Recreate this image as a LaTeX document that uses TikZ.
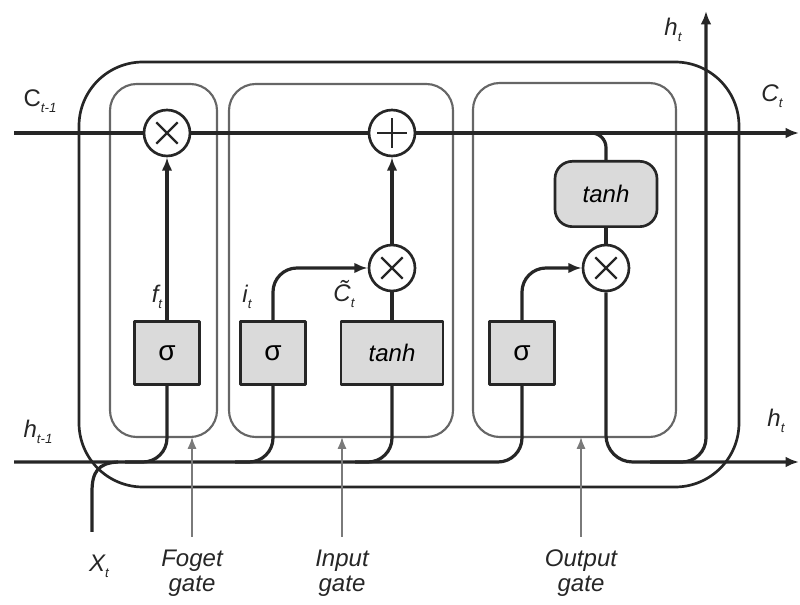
\documentclass[tikz,border=0pt]{standalone}
\usepackage{fontspec}
\setmainfont{Liberation Sans}
\usetikzlibrary{arrows.meta}
\definecolor{lc}{HTML}{262626}
\definecolor{ic}{HTML}{666666}
\definecolor{gc}{HTML}{7A7A7A}
\definecolor{boxfill}{HTML}{DADADA}
\newcommand\subsc[1]{\raisebox{-0.45ex}{\fontsize{10}{10}\selectfont\itshape #1}}
\begin{document}
\begin{tikzpicture}[x=0.75pt,y=-0.75pt, line join=round,
  wire/.style={line width=2.4pt, draw=lc},
  arr/.style={wire, -{Latex[length=10pt,width=8pt]}},
  garr/.style={line width=1.4pt, draw=gc, -{Latex[length=9pt,width=7pt]}},
  gbox/.style={draw=lc, line width=2pt, fill=boxfill, minimum width=48.5pt, minimum height=47pt, inner sep=0pt, font=\fontsize{21}{21}\selectfont},
  tbox/.style={gbox, minimum width=76.5pt, font=\fontsize{18}{18}\selectfont\itshape},
  mult/.style={circle, draw=lc, line width=2pt, fill=white, minimum size=34.5pt, inner sep=0pt,
    path picture={\draw[line width=1.7pt, draw=lc] ([shift={(-8pt,-8pt)}]path picture bounding box.center) -- ([shift={(8pt,8pt)}]path picture bounding box.center);
      \draw[line width=1.7pt, draw=lc] ([shift={(-8pt,8pt)}]path picture bounding box.center) -- ([shift={(8pt,-8pt)}]path picture bounding box.center);}},
  addc/.style={circle, draw=lc, line width=2pt, fill=white, minimum size=34.5pt, inner sep=0pt,
    path picture={\draw[line width=1.7pt, draw=lc] ([shift={(-11pt,0pt)}]path picture bounding box.center) -- ([shift={(11pt,0pt)}]path picture bounding box.center);
      \draw[line width=1.7pt, draw=lc] ([shift={(0pt,-11pt)}]path picture bounding box.center) -- ([shift={(0pt,11pt)}]path picture bounding box.center);}},
  lab/.style={font=\fontsize{18}{18}\selectfont\itshape, text=lc, inner sep=1pt},
  gatelab/.style={font=\fontsize{18}{19}\selectfont\itshape, text=lc, align=center, inner sep=1pt}
]
\useasboundingbox (0,0) rectangle (800,605);
% outer cell
\draw[line width=2pt, draw=lc, rounded corners=48pt] (79,62) rectangle (739,487);
% inner gate boxes
\draw[line width=1.6pt, draw=ic, rounded corners=20pt] (110,84) rectangle (217,437);
\draw[line width=1.6pt, draw=ic, rounded corners=20pt] (229,84) rectangle (453,437);
\draw[line width=1.6pt, draw=ic, rounded corners=20pt] (473,83) rectangle (676,437);

% coordinates for free ends
\coordinate (cin) at (14,133);
\coordinate (cout) at (799,133);
\coordinate (hin) at (14,462);
\coordinate (hr) at (799,462);
\coordinate (hu) at (706,11);
\coordinate (xs) at (92,532);
\coordinate (fbot) at (192,437);
\coordinate (ibot) at (342,437);
\coordinate (obot) at (581,437);

% nodes
\node[mult] (fmul) at (167,133) {};
\node[addc] (plus) at (392,133) {};
\node[mult] (imul) at (392,268) {};
\node[mult] (omul) at (606,268) {};
\node[gbox] (fsig) at (167,353) {σ};
\node[gbox] (isig) at (273,353) {σ};
\node[tbox] (tanhA) at (392,353) {tanh};
\node[gbox] (osig) at (522,353) {σ};
\node[tbox, rounded corners=13pt, minimum height=49pt] (tanhB) at (606,194) {tanh};

% cell state line
\draw[wire] (cin) -- (fmul);
\draw[wire] (fmul) -- (plus);
\draw[arr] (plus) -- (cout);
\draw[wire, rounded corners=11pt] (tanhB.north) |- (570,133);

% hidden state input line
\draw[wire, rounded corners=18pt] (hin) -| (osig.south);
\draw[wire] (xs) -- (92,492) .. controls (92,472) and (98,463) .. (118,462);
\draw[wire, rounded corners=18pt] (fsig.south) |- (125,462);
\draw[wire, rounded corners=18pt] (isig.south) |- (235,462);
\draw[wire, rounded corners=18pt] (tanhA.south) |- (355,462);

% gate internals
\draw[arr] (fsig) -- (fmul);
\draw[arr, rounded corners=18pt] (isig.north) |- (imul.west);
\draw[wire] (tanhA) -- (imul);
\draw[arr] (imul) -- (plus);
\draw[wire] (tanhB) -- (omul);
\draw[arr, rounded corners=18pt] (osig.north) |- (omul.west);

% outputs
\draw[arr, rounded corners=20pt] (omul.south) |- (hr);
\draw[arr, rounded corners=18pt] (650,462) -| (hu);

% labels
\node[lab, font=\fontsize{18}{18}\selectfont] (lcin) at (40,101) {C\subsc{t-1}};
\node[lab] (lhin) at (38,432) {h\subsc{t-1}};
\node[lab] (lf) at (157,297) {f\subsc{t}};
\node[lab] (li) at (247,297) {i\subsc{t}};
\node[lab] (lct) at (344,294) {\~{C}\subsc{t}};
\node[lab] (lhu) at (673,30) {h\subsc{t}};
\node[lab] (lco) at (772,96) {C\subsc{t}};
\node[lab] (lhr) at (776,421) {h\subsc{t}};
\node[lab] (lx) at (99,566) {X\subsc{t}};

\node[gatelab] (fg) at (192,573) {Foget\\gate};
\node[gatelab] (ig) at (342,573) {Input\\gate};
\node[gatelab] (og) at (581,573) {Output\\gate};
\draw[garr] (192,537) -- (fbot);
\draw[garr] (342,537) -- (ibot);
\draw[garr] (581,537) -- (obot);
\end{tikzpicture}
\end{document}
